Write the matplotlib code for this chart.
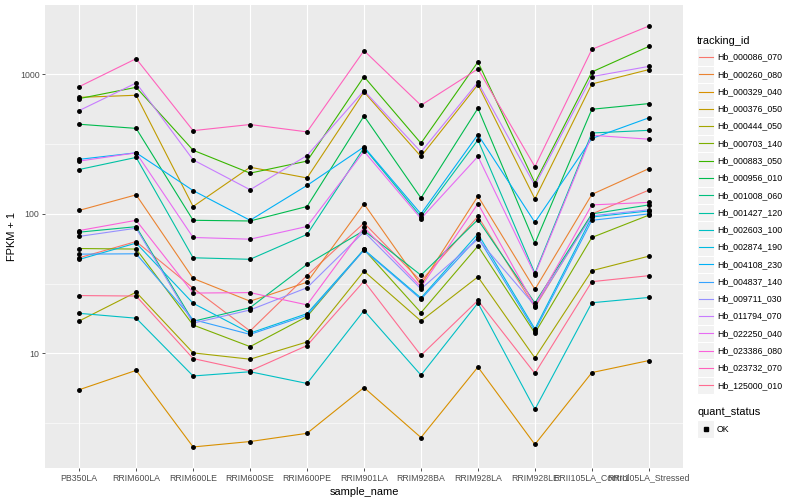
#!/usr/bin/env python3

import matplotlib

matplotlib.use("Agg")
import matplotlib.pyplot as plt
import numpy as np
from matplotlib.patches import Rectangle
from matplotlib.ticker import FixedLocator, NullFormatter

plt.rcParams.update(
    {
        "font.family": "sans-serif",
        "font.sans-serif": ["Liberation Sans", "DejaVu Sans"],
    }
)

samples = [
    "PB350LA", "RRIM600LA", "RRIM600LE", "RRIM600SE", "RRIM600PE", "RRIM901LA",
    "RRIM928BA", "RRIM928LA", "RRIM928LE", "RRII105LA_Control", "RRII105LA_Stressed",
]

tracking_ids = [
    "Hb_000086_070", "Hb_000260_080", "Hb_000329_040", "Hb_000376_050",
    "Hb_000444_050", "Hb_000703_140", "Hb_000883_050", "Hb_000956_010",
    "Hb_001008_060", "Hb_001427_120", "Hb_002603_100", "Hb_002874_190",
    "Hb_004108_230", "Hb_004837_140", "Hb_009711_030", "Hb_011794_070",
    "Hb_022250_040", "Hb_023386_080", "Hb_023732_070", "Hb_125000_010",
]

# FPKM + 1, one list per tracking_id (same order as samples)
hb_000086_070 = [48.5, 63.4, 29.4, 14.5, 36.2, 86, 33, 96, 21.4, 100, 148]
hb_000260_080 = [106, 137, 34.5, 23.7, 32.4, 118, 31, 134, 28.8, 138, 211]
hb_000329_040 = [5.5, 7.57, 2.14, 2.34, 2.68, 5.7, 2.5, 8.0, 2.23, 7.3, 8.9]
hb_000376_050 = [684, 708, 113, 216, 181, 748, 258, 844, 128, 853, 1081]
hb_000444_050 = [17.1, 27.5, 10.1, 9.1, 12.1, 38.9, 17.1, 35.4, 9.3, 39.2, 49.8]
hb_000703_140 = [56.5, 56, 16, 11.2, 18.4, 55.6, 19.6, 58.9, 14, 67.8, 98]
hb_000883_050 = [670, 807, 286, 196, 239, 963, 321, 1227, 167, 1040, 1585]
hb_000956_010 = [439, 410, 90, 89, 113, 503, 130, 571, 61.6, 562, 617]
hb_001008_060 = [74, 81, 17, 21.3, 43.5, 76, 36.4, 91, 23, 100, 116]
hb_001427_120 = [208, 254, 48.5, 47.3, 71.3, 298, 95.5, 339, 37.6, 380, 397]
hb_002603_100 = [19.4, 17.9, 6.9, 7.4, 6.1, 20.3, 7.0, 23, 3.98, 23.1, 25.2]
hb_002874_190 = [47.2, 61.8, 22.9, 14, 19.3, 55.6, 25, 72, 15, 95, 105]
hb_004108_230 = [246, 274, 147, 90, 160, 302, 100, 370, 87, 347, 488]
hb_004837_140 = [51.5, 51.8, 17.5, 13.7, 18.8, 55, 24.5, 68, 14.5, 90, 100]
hb_009711_030 = [69, 79, 16.5, 20.5, 29.6, 74.5, 29, 66, 22, 97, 107]
hb_011794_070 = [550, 867, 244, 149, 262, 764, 278, 877, 160, 963, 1140]
hb_022250_040 = [239, 274, 67.8, 65.9, 81.3, 281, 92.5, 258, 36.8, 366, 343]
hb_023386_080 = [76, 90, 27.1, 27.3, 22.3, 80, 30, 118.5, 22, 116, 121]
hb_023732_070 = [816, 1295, 395, 437, 387, 1479, 600, 1093, 218, 1510, 2218]
hb_125000_010 = [26, 25.8, 9.2, 7.5, 11.4, 33, 9.7, 24, 7.2, 32.7, 36.1]

series = [
    hb_000086_070, hb_000260_080, hb_000329_040, hb_000376_050, hb_000444_050,
    hb_000703_140, hb_000883_050, hb_000956_010, hb_001008_060, hb_001427_120,
    hb_002603_100, hb_002874_190, hb_004108_230, hb_004837_140, hb_009711_030,
    hb_011794_070, hb_022250_040, hb_023386_080, hb_023732_070, hb_125000_010,
]

# ggplot2 hue palette for 20 levels
COLORS = [
    "#F8766D", "#EA8331", "#D89000", "#C09B00", "#A3A500", "#7CAE00", "#39B600",
    "#00BB4E", "#00BF7D", "#00C1A3", "#00BFC4", "#00BAE0", "#00B0F6", "#35A2FF",
    "#9590FF", "#C77CFF", "#E76BF3", "#FA62DB", "#FF62BC", "#FF6C91",
]

W, H = 800, 500
fig = plt.figure(figsize=(8, 5), dpi=100)
ax = fig.add_axes([45 / W, 1 - 468 / H, (683 - 45) / W, (468 - 5) / H])
ax.set_facecolor("#EBEBEB")
for s in ax.spines.values():
    s.set_visible(False)

x = np.arange(len(samples))
for vals, color in zip(series, COLORS):
    ax.plot(x, vals, color=color, lw=0.8, zorder=3)
for vals in series:
    ax.plot(x, vals, ls="none", marker="o", ms=2.5, color="black", zorder=4)

ax.set_yscale("log")
allv = np.log10(np.concatenate([np.asarray(v, float) for v in series]))
lo, hi = allv.min(), allv.max()
pad = 0.05 * (hi - lo)
ax.set_ylim(10 ** (lo - pad), 10 ** (hi + pad))
ax.set_xlim(-0.6, len(samples) - 0.4)

ax.yaxis.set_major_locator(FixedLocator([10, 100, 1000]))
ax.yaxis.set_minor_locator(FixedLocator([10 ** 0.5, 10 ** 1.5, 10 ** 2.5]))
ax.yaxis.set_minor_formatter(NullFormatter())
ax.set_yticklabels(["10", "100", "1000"])
ax.set_xticks(x)
ax.set_xticklabels(samples)

ax.grid(which="major", color="white", lw=0.8, zorder=0)
ax.grid(which="minor", axis="y", color="white", lw=0.4, zorder=0)
ax.set_axisbelow(True)
ax.tick_params(which="major", length=2.5, width=0.6, color="#333333",
               labelsize=6.3, labelcolor="#4D4D4D", pad=1.5)
ax.tick_params(which="minor", length=0)

ax.set_xlabel("sample_name", fontsize=7.9, labelpad=3)
ax.set_ylabel("FPKM + 1", fontsize=7.9, labelpad=2)

# legend drawn in pixel coordinates on the right
lax = fig.add_axes([0, 0, 1, 1], zorder=5)
lax.set_xlim(0, W)
lax.set_ylim(H, 0)
lax.axis("off")

key_h = 17.28
lax.text(697, 40.5, "tracking_id", fontsize=7.9, va="center", ha="left")
for i, (tid, color) in enumerate(zip(tracking_ids, COLORS)):
    yc = 57.0 + i * key_h
    lax.add_patch(Rectangle((697, yc - key_h / 2), key_h, key_h,
                            facecolor="#F2F2F2", edgecolor="white", lw=0.8))
    lax.plot([698.7, 712.5], [yc, yc], color=color, lw=0.8)
    lax.text(717, yc, tid, fontsize=6.3, va="center", ha="left")

lax.text(697, 412, "quant_status", fontsize=7.9, va="center", ha="left")
lax.add_patch(Rectangle((697, 429 - key_h / 2), key_h, key_h,
                        facecolor="#F2F2F2", edgecolor="white", lw=0.8))
lax.plot([705.6], [429], marker="s", ms=2.4, color="black")
lax.text(717, 429, "OK", fontsize=6.3, va="center", ha="left")

fig.savefig("out.png", dpi=100)
